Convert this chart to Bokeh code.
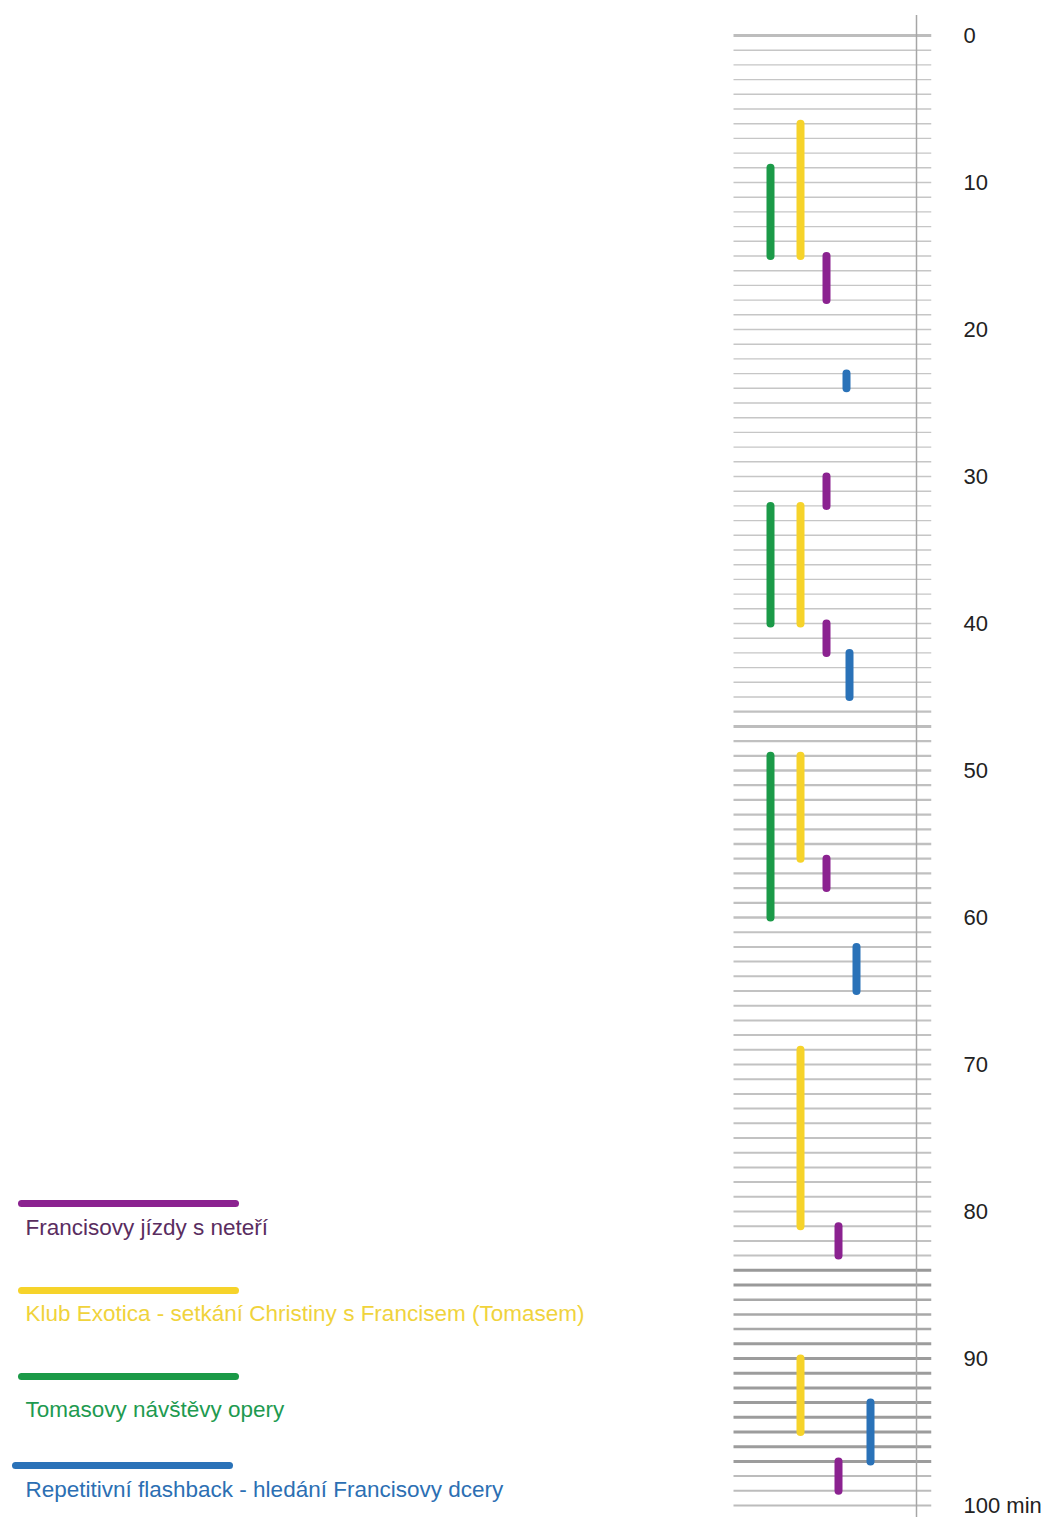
from bokeh.plotting import figure
from bokeh.models import Range1d, FixedTicker
from bokeh.embed import file_html
from bokeh.resources import INLINE
from bokeh.core.properties import value

# ---------------- data (minutes of the film) ----------------
series_names = [
    "Francisovy jízdy s neteří",
    "Klub Exotica - setkání Christiny s Francisem (Tomasem)",
    "Tomasovy návštěvy opery",
    "Repetitivní flashback - hledání Francisovy dcery",
]
series_colors = ["#8b2290", "#f6d32a", "#1b9a48", "#2a72b8"]
text_colors = ["#5a2d5f", "#f0d33c", "#1e9a50", "#2c6fb3"]

purple_start = [15, 30, 40, 56, 81, 97]
purple_end = [18, 32, 42, 58, 83, 99]
purple_lane = [826, 826, 826, 826, 838, 838]

yellow_start = [6, 32, 49, 69, 90]
yellow_end = [15, 40, 56, 81, 95]
yellow_lane = [800, 800, 800, 800, 800]

green_start = [9, 32, 49]
green_end = [15, 40, 60]
green_lane = [770, 770, 770]

blue_start = [23, 42, 62, 93]
blue_end = [24, 45, 65, 97]
blue_lane = [846, 849, 856, 870]

tick_values = [0, 10, 20, 30, 40, 50, 60, 70, 80, 90, 100]
tick_labels = {100: "100 min"}

minutes = list(range(0, 101))

# ---------------- layout ----------------
PX0 = 35.0      # canvas y of minute 0
PXM = 14.7      # pixels per minute
W, H = 1047, 1517
RIGHT = 116
top_min = (0 - PX0) / PXM
bot_min = (H - PX0) / PXM

p = figure(width=W, height=H, output_backend="svg", toolbar_location=None,
           x_range=Range1d(0, W - RIGHT), y_range=Range1d(bot_min, top_min),
           x_axis_location=None, y_axis_location="right",
           min_border_left=0, min_border_top=0, min_border_bottom=0,
           min_border_right=RIGHT, outline_line_color=None,
           background_fill_color="white", border_fill_color="white")
p.grid.visible = False
p.extra_y_ranges = {"px": Range1d(H, 0)}

ax = p.yaxis[0]
ax.ticker = FixedTicker(ticks=tick_values)
ax.major_label_overrides = tick_labels
ax.axis_line_color = None
ax.major_tick_line_color = None
ax.minor_tick_line_color = None
ax.major_tick_out = 0
ax.major_tick_in = 0
ax.major_label_standoff = 32
ax.major_label_text_font = "Liberation Sans"
ax.major_label_text_font_size = "22px"
ax.major_label_text_color = "#222222"

# horizontal minute lines (style by section)
widths, colors = [], []
for m in minutes:
    if m == 0:
        w, c = 3.0, "#bdbdbd"
    elif m <= 45:
        w, c = 1.4, "#c6c6c6"
    elif m == 47:
        w, c = 3.0, "#bdbdbd"
    elif m <= 60:
        w, c = 2.3, "#c0c0c0"
    elif m <= 83:
        w, c = 2.0, "#c2c2c2"
    elif m <= 85:
        w, c = 3.0, "#999999"
    elif m <= 88:
        w, c = 2.5, "#a8a8a8"
    elif m <= 97:
        w, c = 3.0, "#9c9c9c"
    else:
        w, c = 2.0, "#bcbcbc"
    widths.append(w)
    colors.append(c)

p.segment(x0=[733] * len(minutes), x1=[931] * len(minutes), y0=minutes, y1=minutes,
          line_width=widths, line_color=colors)

# vertical time axis line
p.segment(x0=[916], x1=[916], y0=[-1.4], y1=[bot_min], line_color="#a6a6a6", line_width=1.5)

# bars
for st, en, lane, col in [
    (green_start, green_end, green_lane, series_colors[2]),
    (yellow_start, yellow_end, yellow_lane, series_colors[1]),
    (purple_start, purple_end, purple_lane, series_colors[0]),
    (blue_start, blue_end, blue_lane, series_colors[3]),
]:
    p.segment(x0=lane, x1=lane, y0=st, y1=en, line_color=col, line_width=8,
              line_cap="round")

# legend (canvas-pixel coordinates)
leg_line_x0 = [21, 21, 21, 15]
leg_line_x1 = [235, 235, 235, 229]
leg_line_y = [1203, 1290, 1376, 1465]
leg_text_y = [1227, 1313, 1409, 1489]
p.segment(x0=leg_line_x0, x1=leg_line_x1, y0=leg_line_y, y1=leg_line_y,
          line_color=series_colors, line_width=7, line_cap="round", y_range_name="px")
p.text(x=[25] * 4, y=leg_text_y, text=series_names, text_color=text_colors,
       text_font=value("Liberation Sans"), text_font_size="22.5px",
       text_baseline="middle", text_align="left", y_range_name="px")

open("out.html", "w").write(file_html(p, INLINE))
